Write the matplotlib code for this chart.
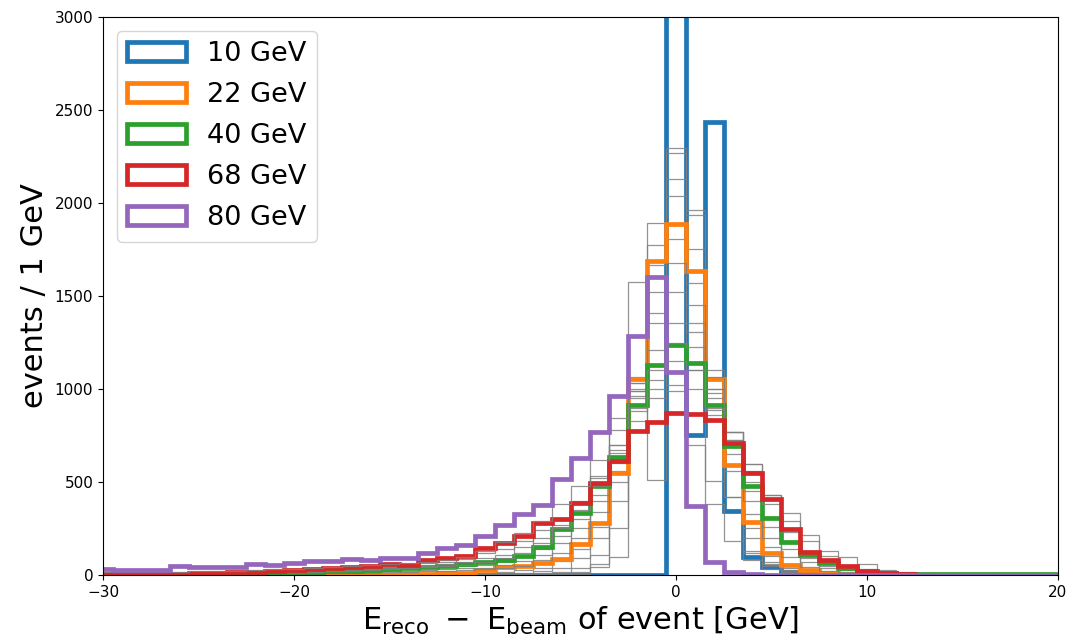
import numpy as np
import matplotlib
matplotlib.use("Agg")
import matplotlib.pyplot as plt

# Bin centres (1 GeV bins) for E_reco - E_beam
bin_lo, bin_hi = -30, 20

# Highlighted beam energies (counts per bin, k = -30 ... 20)
e10 = ([0] * 20 +
       [0, 0, 0, 0, 0, 0, 0, 0, 0, 0, 5600, 753, 2437, 346, 95, 45, 18, 5, 2, 0] +
       [0] * 11)
e22 = ([0] * 14 + [1, 2, 3, 4, 8, 13] +
       [27, 42, 50, 62, 88, 165, 278, 550, 1055, 1690, 1889, 1636, 1053, 591, 287, 117, 54, 27, 13, 5] +
       [2, 1, 0, 0, 0, 0, 0, 0, 0, 0, 0])
e40 = ([3, 3, 4, 4, 5, 6, 8, 9, 11, 13, 15, 17, 20, 23, 28, 34, 36, 41, 50, 60] +
       [72, 82, 100, 152, 245, 332, 478, 636, 914, 1129, 1237, 1138, 914, 695, 480, 305, 179, 105, 65, 35] +
       [15, 9, 7, 6, 5, 5, 4, 4, 3, 3, 3])
e68 = ([3, 3, 4, 5, 6, 10, 13, 15, 18, 20, 25, 30, 37, 45, 48, 60, 55, 80, 90, 100] +
       [145, 170, 210, 280, 300, 385, 496, 615, 776, 821, 869, 866, 833, 708, 550, 410, 248, 122, 78, 48] +
       [20, 8, 3, 2, 1, 0, 0, 0, 0, 0, 0])
e80 = ([30, 28, 27, 27, 48, 41, 41, 42, 57, 56, 63, 75, 77, 86, 82, 93, 91, 120, 143, 161] +
       [210, 269, 330, 376, 514, 630, 770, 960, 1285, 1600, 1093, 372, 68, 17, 4, 1, 0, 0, 0, 0] +
       [0] * 11)

# Remaining beam energies, drawn in grey
e12 = ([0] * 20 +
       [0, 0, 0, 0, 2, 4, 60, 98, 1577, 511, 2294, 1935, 507, 771, 118, 50, 15, 5, 2, 0] +
       [0] * 11)
e14 = ([0] * 20 +
       [0, 0, 1, 3, 6, 15, 45, 250, 830, 1894, 2267, 1102, 1102, 420, 130, 60, 20, 8, 3, 1] +
       [0] * 11)
e16 = ([0] * 15 + [1, 1, 2, 2, 3] +
       [3, 4, 5, 8, 15, 35, 110, 400, 990, 1774, 2127, 1962, 860, 420, 200, 70, 25, 10, 4, 2] +
       [1] + [0] * 10)
e18 = ([0] * 12 + [1, 1, 2, 2, 3, 3, 4, 5] +
       [6, 8, 10, 20, 40, 90, 200, 500, 1030, 1667, 2038, 1751, 980, 560, 250, 100, 40, 15, 6, 2] +
       [1] + [0] * 10)
e20 = ([0] * 10 + [1, 1, 2, 2, 3, 4, 5, 6, 8, 10] +
       [12, 15, 25, 40, 75, 140, 260, 560, 1065, 1523, 1805, 1568, 1048, 650, 330, 150, 60, 25, 10, 4] +
       [2, 1] + [0] * 9)
e25 = ([1, 1, 1, 2, 2, 2, 3, 3, 4, 5, 6, 7, 8, 10, 12, 14, 17, 20, 24, 28] +
       [32, 35, 50, 80, 120, 200, 340, 600, 1000, 1407, 1676, 1452, 1066, 726, 400, 200, 95, 45, 20, 8] +
       [4, 2, 1] + [0] * 8)
e30 = ([2, 2, 3, 3, 4, 4, 5, 6, 7, 8, 9, 11, 13, 15, 18, 21, 24, 28, 32, 36] +
       [40, 55, 75, 110, 170, 250, 400, 656, 960, 1353, 1523, 1356, 1000, 700, 450, 260, 140, 70, 35, 15] +
       [7, 3, 2, 1] + [0] * 7)
e35 = ([3, 3, 4, 4, 5, 6, 7, 8, 9, 10, 12, 14, 16, 19, 22, 26, 30, 36, 42, 48] +
       [55, 70, 95, 140, 210, 300, 430, 672, 990, 1210, 1353, 1308, 950, 726, 500, 300, 170, 90, 50, 25] +
       [10, 5, 3, 2, 1] + [0] * 6)
e45 = ([5, 5, 6, 6, 7, 8, 9, 10, 12, 13, 15, 17, 20, 23, 27, 31, 36, 42, 48, 55] +
       [70, 90, 120, 170, 250, 350, 480, 700, 900, 1048, 1249, 1224, 900, 771, 560, 380, 230, 130, 75, 40] +
       [20, 10, 6, 4, 3, 2, 2, 1, 1, 1, 0])
e50 = ([6, 6, 7, 8, 9, 10, 11, 12, 14, 16, 18, 21, 24, 28, 32, 37, 43, 50, 60, 70] +
       [90, 110, 150, 200, 270, 380, 520, 780, 950, 1000, 1150, 1102, 1000, 700, 597, 430, 290, 180, 100, 55] +
       [30, 15, 8, 5, 4, 3, 2, 2, 1, 1, 1])
e60 = ([8, 9, 10, 11, 12, 14, 15, 17, 19, 22, 25, 28, 32, 36, 41, 47, 55, 62, 72, 85] +
       [120, 140, 180, 240, 300, 400, 530, 700, 880, 950, 990, 1000, 887, 771, 597, 430, 335, 215, 131, 95] +
       [59, 25, 15, 8, 5, 4, 3, 2, 2, 1, 1])
e75 = ([14, 14, 15, 16, 18, 20, 22, 24, 27, 30, 34, 38, 42, 47, 52, 58, 65, 72, 80, 95] +
       [130, 175, 225, 290, 380, 480, 620, 842, 1030, 1100, 1020, 700, 380, 180, 80, 30, 10, 3, 1, 0] +
       [0] * 11)

# Drawing order follows beam energy; highlighted ones carry a label and colour
series = [
    (e10, "10 GeV", "tab:blue"),
    (e12, None, None), (e14, None, None), (e16, None, None),
    (e18, None, None), (e20, None, None),
    (e22, "22 GeV", "tab:orange"),
    (e25, None, None), (e30, None, None), (e35, None, None),
    (e40, "40 GeV", "tab:green"),
    (e45, None, None), (e50, None, None), (e60, None, None),
    (e68, "68 GeV", "tab:red"),
    (e75, None, None),
    (e80, "80 GeV", "tab:purple"),
]

centers = np.arange(bin_lo, bin_hi + 1)
edges = np.arange(bin_lo - 0.5, bin_hi + 1.5, 1.0)

fig = plt.figure(figsize=(10.74, 6.43), dpi=100)
ax = fig.add_axes([0.0959, 0.1058, 0.8892, 0.8678])

for counts, label, color in series:
    if label is None:
        ax.hist(centers, bins=edges, weights=counts, histtype="step",
                color="gray", lw=0.9, alpha=0.85)
    else:
        ax.hist(centers, bins=edges, weights=counts, histtype="step",
                color=color, lw=3.4, label=label)

ax.set_xlim(-30, 20)
ax.set_ylim(0, 3000)
ax.tick_params(labelsize=11)
ax.set_xlabel(r"$\mathrm{E_{reco}\ -\ E_{beam}}$ of event [GeV]", fontsize=22)
ax.set_ylabel("events / 1 GeV", fontsize=22)
ax.legend(loc="upper left", fontsize=19.5, handlelength=2.15,
          labelspacing=0.55)

fig.savefig("out.png", dpi=100)
